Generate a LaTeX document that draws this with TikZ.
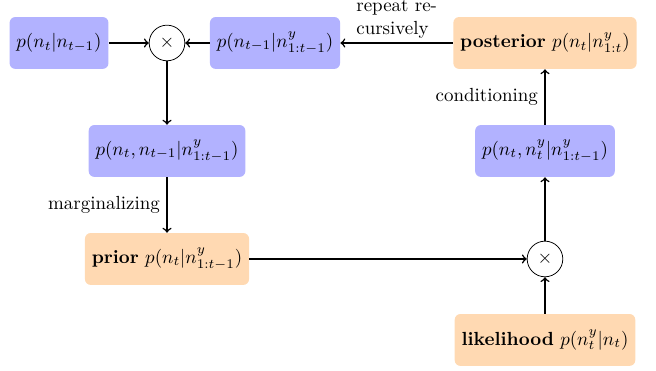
\documentclass[tikz,border=0pt]{standalone}
\usepackage{xcolor}
\usepackage{tikz}
\usetikzlibrary{arrows}
\usetikzlibrary{calc}

\begin{document}
\begin{tikzpicture}
    [%%%%%%%%%%%%%%%%%%%%%%%%%%%%%%
        bluebox/.style={rectangle,rounded corners=3pt,fill=blue!30,minimum height=0.96cm,inner xsep=3.6pt},
        orangebox/.style={rectangle,rounded corners=3pt,fill=orange!30,minimum height=0.96cm,inner xsep=3.6pt},
        prod/.style={circle,draw=black,minimum size=0.66cm,inner sep=0pt},
        link/.style={->,thick}
    ]%%%%%%%%%%%%%%%%%%%%%%%%%%%%%%
\useasboundingbox (-3.093,0.796) rectangle (9.056,-6.074);

% first row
\node[bluebox] (trans) at (-2,0) {$p(n_t|n_{t-1})$};
\node[prod] (prod1) at (0,0) {$\times$};
\node[bluebox] (prev) at (2,0) {$p(n_{t-1}|n^y_{1:t-1})$};
\node[orangebox] (post) at (7,0) {\textbf{posterior} $p(n_t|n^y_{1:t})$};

% left column
\node[bluebox] (joint) at (0,-2) {$p(n_t,n_{t-1}|n^y_{1:t-1})$};
\node[orangebox] (prior) at (0,-4) {\textbf{prior} $p(n_t|n^y_{1:t-1})$};

% right column
\node[bluebox] (jointy) at (7,-2) {$p(n_t,n^y_t|n^y_{1:t-1})$};
\node[prod] (prod2) at (7,-4) {$\times$};
\node[orangebox] (lik) at (7,-5.5) {\textbf{likelihood} $p(n^y_t|n_t)$};

\draw [link] (trans) -- (prod1);
\draw [link] (prev) -- (prod1);
\draw [link] (post) -- node [above,align=left,yshift=-1.2pt] {repeat re-\\cursively} (prev);
\draw [link] (prod1) -- (joint);
\draw [link] (joint) -- node [left] {marginalizing} (prior);
\draw [link] (prior) -- (prod2);
\draw [link] (lik) -- (prod2);
\draw [link] (prod2) -- (jointy);
\draw [link] (jointy) -- node [left] {conditioning} (post);

\end{tikzpicture}
\end{document}
